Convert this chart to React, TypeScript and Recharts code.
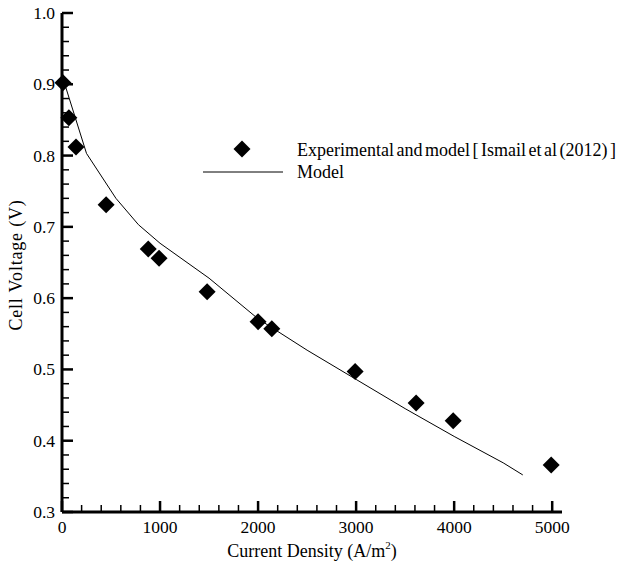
import React from 'react'
import {
  ScatterChart,
  Scatter,
  XAxis,
  YAxis,
  Label,
} from 'recharts'

// experimental points (current density A/m2, cell voltage V)
const expCurrent = [10, 70, 143, 450, 880, 990, 1480, 2000, 2140, 2990, 3612, 3990, 4990]
const expVoltage = [0.902, 0.853, 0.812, 0.731, 0.669, 0.656, 0.609, 0.567, 0.557, 0.497, 0.453, 0.428, 0.366]

// model curve
const modelCurrent = [40, 250, 550, 780, 1000, 1500, 2000, 2500, 3000, 3500, 4000, 4500, 4700]
const modelVoltage = [0.895, 0.803, 0.74, 0.703, 0.677, 0.628, 0.571, 0.527, 0.486, 0.445, 0.406, 0.369, 0.352]

const xMajorTicks = [0, 1000, 2000, 3000, 4000, 5000]
const yMajorTicks = [0.3, 0.4, 0.5, 0.6, 0.7, 0.8, 0.9, 1.0]

const FONT = '"Liberation Serif", "Times New Roman", serif'

const expData = expCurrent.map((i, k) => ({ i, v: expVoltage[k] }))
const modelData = modelCurrent.map((i, k) => ({ i, v: modelVoltage[k] }))

// minor ticks: 5 subdivisions between majors
const subdivide = (major: number[], n: number, digits: number) => {
  const out: number[] = []
  for (let k = 0; k < major.length - 1; k++) {
    const step = (major[k + 1] - major[k]) / n
    for (let j = 0; j < n; j++) out.push(+(major[k] + step * j).toFixed(digits))
  }
  out.push(major[major.length - 1])
  return out
}
const xTicks = subdivide(xMajorTicks, 5, 0)
const yTicks = subdivide(yMajorTicks, 5, 2)

const isMajor = (v: number, list: number[]) => list.some((m) => Math.abs(m - v) < 1e-6)

const XTick = (props: any) => {
  const { x, y, payload } = props
  const major = isMajor(payload.value, xMajorTicks)
  return (
    <g>
      <line x1={x} x2={x} y1={y} y2={y - (major ? 11 : 7)} stroke="#000" strokeWidth={major ? 2.5 : 1.5} />
      {major && (
        <text x={x} y={y + 21} textAnchor="middle" fontSize={17.5} fontFamily={FONT} fill="#000">
          {payload.value}
        </text>
      )}
    </g>
  )
}

const YTick = (props: any) => {
  const { x, y, payload } = props
  const major = isMajor(payload.value, yMajorTicks)
  return (
    <g>
      <line x1={x} x2={x + (major ? 11 : 7)} y1={y} y2={y} stroke="#000" strokeWidth={major ? 2.5 : 1.5} />
      {major && (
        <text x={x - 7} y={y + 6} textAnchor="end" fontSize={17.5} fontFamily={FONT} fill="#000">
          {payload.value.toFixed(1)}
        </text>
      )}
    </g>
  )
}

const Diamond = (props: any) => {
  const { cx, cy } = props
  const r = 8.5
  return <polygon points={`${cx},${cy - r} ${cx + r},${cy} ${cx},${cy + r} ${cx - r},${cy}`} fill="#000" />
}

const NoDot = () => <g />

export default function App() {
  return (
    <div style={{ position: 'absolute', left: 0, top: 0, width: 635, height: 564, background: '#fff' }}>
      <ScatterChart width={635} height={564} margin={{ top: 13, right: 73, bottom: 12, left: 12 }}>
        <XAxis
          type="number"
          dataKey="i"
          domain={[0, 5100]}
          ticks={xTicks}
          interval={0}
          tick={<XTick />}
          tickLine={false}
          tickSize={0}
          tickMargin={0}
          height={40}
          axisLine={{ stroke: '#000', strokeWidth: 3 }}
        >
          <Label
            position="bottom"
            content={(p: any) => {
              const vb = p.viewBox
              const cx = vb.x + vb.width / 2
              return (
                <text x={cx} y={557} textAnchor="middle" fontSize={18} fontFamily={FONT} fill="#000">
                  Current Density (A/m
                  <tspan dy={-8} fontSize={11}>2</tspan>
                  <tspan dy={8}>)</tspan>
                </text>
              )
            }}
          />
        </XAxis>
        <YAxis
          type="number"
          dataKey="v"
          domain={[0.3, 1.0]}
          ticks={yTicks}
          interval={0}
          tick={<YTick />}
          tickLine={false}
          tickSize={0}
          tickMargin={0}
          width={50}
          axisLine={{ stroke: '#000', strokeWidth: 3 }}
        >
          <Label
            content={() => (
              <text
                x={22}
                y={265}
                transform="rotate(-90 22 265)"
                textAnchor="middle"
                fontSize={18}
                fontFamily={FONT}
                letterSpacing={0.8}
                fill="#000"
              >
                Cell Voltage (V)
              </text>
            )}
          />
        </YAxis>
        <Scatter
          name="Model"
          data={modelData}
          line={{ stroke: '#000', strokeWidth: 1 }}
          lineType="joint"
          shape={<NoDot />}
          isAnimationActive={false}
        />
        <Scatter
          name="Experimental and model [ Ismail et al (2012) ]"
          data={expData}
          shape={<Diamond />}
          isAnimationActive={false}
        />
      </ScatterChart>
      <div style={{ position: 'absolute', left: 0, top: 0, width: 635, height: 564, pointerEvents: 'none' }}>
        <svg width={635} height={564} style={{ position: 'absolute', left: 0, top: 0 }}>
          <polygon points="242,140.5 250.5,149 242,157.5 233.5,149" fill="#000" />
          <line x1={203} x2={283} y1={172} y2={172} stroke="#000" strokeWidth={1} />
          <text x={297} y={156} fontSize={18} fontFamily={FONT} fill="#000" wordSpacing={-2}>
            Experimental and model [ Ismail et al (2012) ]
          </text>
          <text x={297} y={178} fontSize={18} fontFamily={FONT} fill="#000">
            Model
          </text>
        </svg>
      </div>
    </div>
  )
}
